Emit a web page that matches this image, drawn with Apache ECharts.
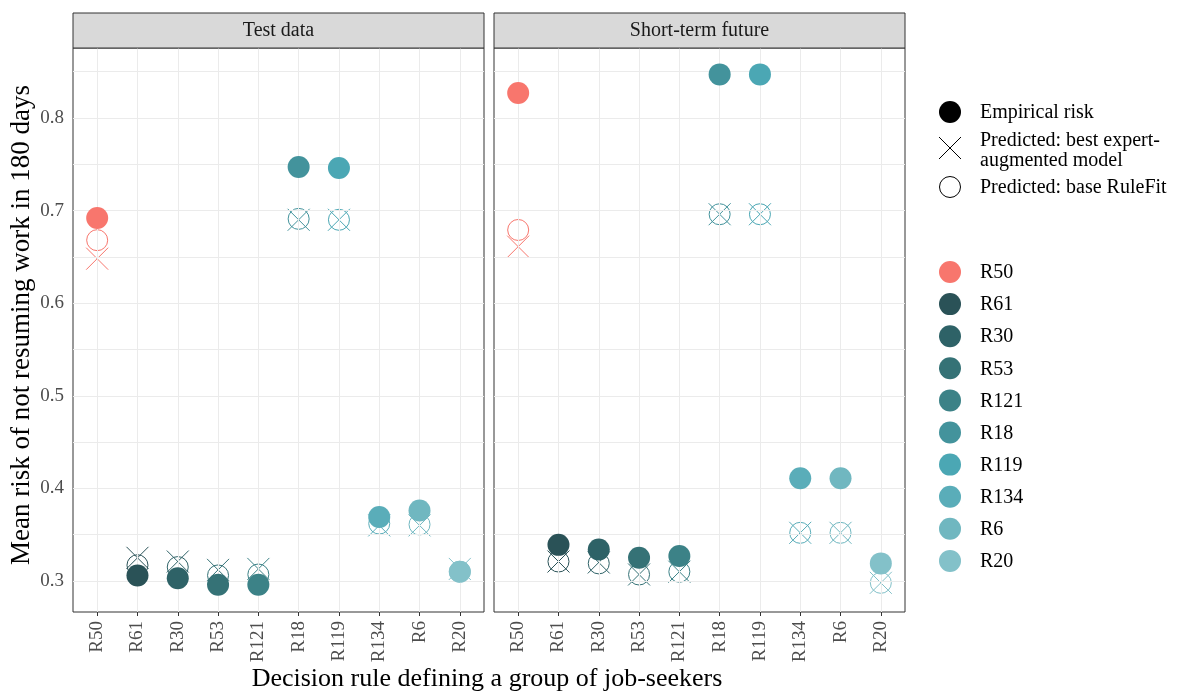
<!DOCTYPE html>
<html>
<head>
<meta charset="utf-8">
<title>Mean risk of not resuming work by decision rule</title>
<script src="https://cdn.jsdelivr.net/npm/echarts@6/dist/echarts.min.js"></script>
<style>
  html, body { margin: 0; padding: 0; background: #ffffff; }
  #chart { width: 1179px; height: 693px; }
</style>
</head>
<body>
<div id="chart"></div>
<script>
// Decision rules (x categories) and their colours
const rules = ['R50', 'R61', 'R30', 'R53', 'R121', 'R18', 'R119', 'R134', 'R6', 'R20'];
const ruleColors = ['#F8766D', '#2A5257', '#2E6267', '#357276', '#3C8287',
                    '#43939C', '#4BA7B4', '#5AADB9', '#70B7C0', '#83C1C9'];

const panelTitles = ['Test data', 'Short-term future'];

// Test data panel
const testEmpirical = [0.692, 0.306, 0.303, 0.296, 0.296, 0.747, 0.746, 0.369, 0.376, 0.310];
const testExpert    = [0.648, 0.325, 0.321, 0.312, 0.313, 0.690, 0.690, 0.360, 0.360, 0.313];
const testBase      = [0.668, 0.317, 0.315, 0.306, 0.307, 0.691, 0.690, 0.362, 0.361, 0.310];

// Short-term future panel
const futureEmpirical = [0.827, 0.339, 0.334, 0.325, 0.327, 0.847, 0.847, 0.411, 0.411, 0.319];
const futureExpert    = [0.661, 0.321, 0.320, 0.307, 0.310, 0.696, 0.696, 0.352, 0.352, 0.298];
const futureBase      = [0.679, 0.321, 0.319, 0.307, 0.310, 0.696, 0.696, 0.352, 0.352, 0.298];

// Axis ticks
const yTicks = [0.3, 0.4, 0.5, 0.6, 0.7, 0.8];
const yMinorTicks = [0.35, 0.45, 0.55, 0.65, 0.75, 0.85];
const yRange = [0.2665, 0.8755];

// Legend entries for the point shapes
const shapeLegend = ['Empirical risk', 'Predicted: best expert-\naugmented model', 'Predicted: base RuleFit'];

const FONT = "'Liberation Serif', 'Times New Roman', serif";
const GRID_LINE = '#EBEBEB';
const BORDER = '#333333';
const PANEL_TOP = 48, PANEL_H = 564, PANEL_W = 411;
const panelLefts = [73, 494];
const STRIP_H = 35;

const panels = [
  { empirical: testEmpirical, expert: testExpert, base: testBase },
  { empirical: futureEmpirical, expert: futureExpert, base: futureBase }
];

const xIdx = rules.map((r, i) => i);
const CROSS = 'path://M0,0L10,10M10,0L0,10';

function points(values, filled) {
  return values.map((v, i) => ({
    value: [i, v],
    itemStyle: filled
      ? { color: ruleColors[i], borderWidth: 0, opacity: 1 }
      : { color: 'rgba(0,0,0,0)', borderColor: ruleColors[i], borderWidth: 1, opacity: 1 }
  }));
}

const grids = [], xAxes = [], yAxes = [], series = [];

panels.forEach((p, k) => {
  grids.push({
    left: panelLefts[k], top: PANEL_TOP, width: PANEL_W, height: PANEL_H,
    show: true, backgroundColor: '#ffffff', borderColor: BORDER, borderWidth: 1
  });
  xAxes.push({
    type: 'value', gridIndex: k, min: -0.6, max: 9.6,
    axisLine: { show: false },
    axisTick: { show: true, customValues: xIdx, length: 4, lineStyle: { color: BORDER } },
    axisLabel: {
      customValues: xIdx, rotate: 90, margin: 9, color: '#4D4D4D',
      fontFamily: FONT, fontSize: 19, formatter: v => rules[v]
    },
    splitLine: { show: false }
  });
  yAxes.push({
    type: 'value', gridIndex: k, min: yRange[0], max: yRange[1],
    axisLine: { show: false },
    axisTick: { show: k === 0, customValues: yTicks, length: 4, lineStyle: { color: BORDER } },
    axisLabel: {
      show: k === 0, customValues: yTicks, margin: 9, color: '#4D4D4D',
      fontFamily: FONT, fontSize: 19, formatter: v => v.toFixed(1)
    },
    splitLine: { show: false }
  });

  // background grid lines of the panel
  series.push({
    type: 'line', xAxisIndex: k, yAxisIndex: k, data: [], silent: true, z: 1,
    markLine: {
      silent: true, symbol: ['none', 'none'], label: { show: false },
      emphasis: { disabled: true },
      lineStyle: { color: GRID_LINE, width: 1, type: 'solid' },
      data: yMinorTicks.concat(yTicks).map(v => ({ yAxis: v }))
        .concat(xIdx.map(i => ({ xAxis: i })))
    }
  });

  series.push({
    name: 'expert', type: 'scatter', xAxisIndex: k, yAxisIndex: k, z: 3, silent: true,
    symbol: CROSS, symbolSize: 22, itemStyle: { opacity: 1 }, data: points(p.expert, false)
  });
  series.push({
    name: 'base', type: 'scatter', xAxisIndex: k, yAxisIndex: k, z: 4, silent: true,
    symbol: 'circle', symbolSize: 21, itemStyle: { opacity: 1 }, data: points(p.base, false)
  });
  series.push({
    name: 'empirical', type: 'scatter', xAxisIndex: k, yAxisIndex: k, z: 5, silent: true,
    symbol: 'circle', symbolSize: 22, itemStyle: { opacity: 1 }, data: points(p.empirical, true)
  });
});

// Facet strips, axis titles and legends
const graphics = [];
panelTitles.forEach((t, k) => {
  graphics.push({
    type: 'rect', z: 10,
    shape: { x: panelLefts[k], y: PANEL_TOP - STRIP_H, width: PANEL_W, height: STRIP_H },
    style: { fill: '#D9D9D9', stroke: BORDER, lineWidth: 1 }
  });
  graphics.push({
    type: 'text', z: 11, x: panelLefts[k] + PANEL_W / 2, y: PANEL_TOP - STRIP_H / 2,
    style: { text: t, font: '20px ' + FONT, fill: '#1A1A1A', align: 'center', verticalAlign: 'middle' }
  });
});

graphics.push({
  type: 'text', x: (panelLefts[0] + panelLefts[1] + PANEL_W) / 2 - 2, y: 679,
  style: { text: 'Decision rule defining a group of job-seekers', font: '26px ' + FONT,
           fill: '#000000', align: 'center', verticalAlign: 'middle' }
});
graphics.push({
  type: 'text', x: 22, y: PANEL_TOP + PANEL_H / 2 - 5, rotation: Math.PI / 2,
  style: { text: 'Mean risk of not resuming work in 180 days', font: '27px ' + FONT,
           fill: '#000000', align: 'center', verticalAlign: 'middle' }
});

// shape legend
const LX = 950, TX = 980;
const shapeY = [112, 148, 187];
graphics.push({ type: 'circle', shape: { cx: LX, cy: shapeY[0], r: 11 }, style: { fill: '#000000' } });
graphics.push({ type: 'line', shape: { x1: LX - 11, y1: shapeY[1] - 11, x2: LX + 11, y2: shapeY[1] + 11 },
                style: { stroke: '#000000', lineWidth: 1 } });
graphics.push({ type: 'line', shape: { x1: LX - 11, y1: shapeY[1] + 11, x2: LX + 11, y2: shapeY[1] - 11 },
                style: { stroke: '#000000', lineWidth: 1 } });
graphics.push({ type: 'circle', shape: { cx: LX, cy: shapeY[2], r: 10.5 },
                style: { fill: 'none', stroke: '#000000', lineWidth: 1 } });
const shapeTextY = [113, 151, 188];
shapeLegend.forEach((t, i) => {
  graphics.push({
    type: 'text', x: TX, y: shapeTextY[i],
    style: { text: t, font: '20px ' + FONT, fill: '#000000', align: 'left',
             verticalAlign: 'middle', lineHeight: 20 }
  });
});

// colour legend
rules.forEach((r, i) => {
  const cy = 272 + i * 32.1;
  graphics.push({ type: 'circle', shape: { cx: LX, cy: cy, r: 11 }, style: { fill: ruleColors[i] } });
  graphics.push({
    type: 'text', x: TX, y: cy + 1,
    style: { text: r, font: '20px ' + FONT, fill: '#000000', align: 'left', verticalAlign: 'middle' }
  });
});

const chart = echarts.init(document.getElementById('chart'));
chart.setOption({
  animation: false,
  backgroundColor: '#ffffff',
  grid: grids,
  xAxis: xAxes,
  yAxis: yAxes,
  series: series,
  graphic: graphics
});
</script>
</body>
</html>
